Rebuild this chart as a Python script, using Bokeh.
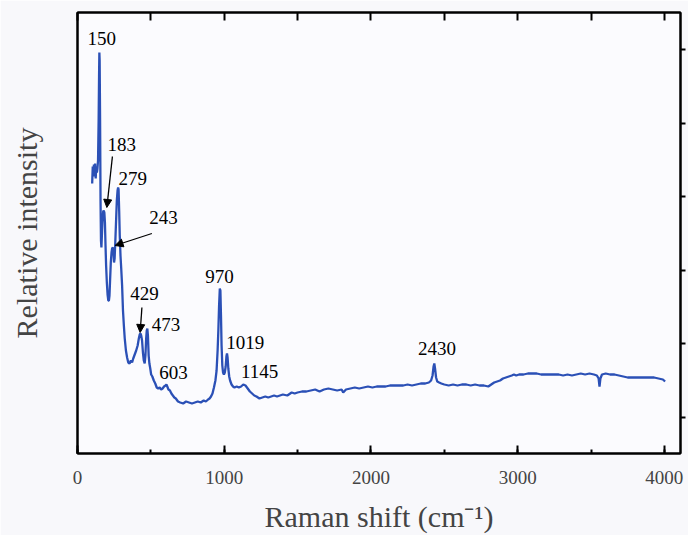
from bokeh.plotting import figure
from bokeh.models import (Range1d, LinearAxis, SingleIntervalTicker, FixedTicker,
                          Arrow, NormalHead, ColumnDataSource, CustomJSTickFormatter)
from bokeh.core.properties import value
from bokeh.embed import file_html
from bokeh.resources import INLINE

# Raman shift (cm-1)
shift = [100, 104, 108, 112, 116, 120, 124, 128, 132, 136, 140, 144, 147, 149, 151, 154, 157, 160,
         163, 167, 171, 175, 179, 183, 187, 191, 195, 200, 205, 210, 214, 218, 222, 227, 232, 236,
         241, 245, 249, 253, 258, 263, 268, 273, 277, 280, 284, 288, 293, 298, 304, 310, 316, 322,
         330, 338, 346, 355, 364, 372, 380, 390, 400, 410, 418, 424, 429, 434, 440, 446, 452, 458,
         463, 468, 472, 476, 480, 485, 490, 496, 502, 510, 520, 530, 540, 550, 560, 570, 580, 590,
         600, 606, 612, 620, 630, 640, 650, 660, 670, 685, 700, 720, 740, 760, 780, 800, 820, 840,
         860, 875, 890, 900, 910, 920, 930, 940, 948, 955, 960, 965, 970, 974, 978, 982, 987, 992,
         998, 1004, 1010, 1015, 1019, 1023, 1028, 1034, 1040, 1050, 1060, 1070, 1085, 1100, 1115,
         1130, 1145, 1160, 1175, 1190, 1205, 1220, 1240, 1260, 1280, 1300, 1320, 1340, 1360, 1380,
         1400, 1430, 1460, 1480, 1500, 1530, 1560, 1590, 1620, 1650, 1680, 1710, 1740, 1770, 1800,
         1811, 1830, 1860, 1890, 1920, 1950, 1980, 2010, 2040, 2070, 2100, 2130, 2160, 2190, 2220,
         2250, 2280, 2310, 2340, 2370, 2395, 2410, 2420, 2427, 2432, 2437, 2444, 2452, 2465, 2480,
         2500, 2530, 2560, 2590, 2620, 2650, 2680, 2710, 2740, 2770, 2800, 2820, 2840, 2860, 2880,
         2900, 2920, 2940, 2960, 2975, 2990, 3010, 3040, 3070, 3100, 3130, 3160, 3190, 3220, 3250,
         3280, 3310, 3340, 3370, 3400, 3430, 3460, 3490, 3520, 3540, 3552, 3558, 3564, 3575, 3600,
         3630, 3660, 3690, 3720, 3750, 3780, 3810, 3840, 3870, 3900, 3930, 3960, 3990, 4005]

# Relative intensity (arbitrary units)
intensity = [270, 287, 277, 289, 283, 290, 275, 287, 281, 285, 293, 333, 378, 401, 393, 333, 253, 213,
             206, 221, 235, 242, 243, 241, 231, 208, 188, 171, 159, 153, 153, 158, 173, 191, 201, 205,
             206, 203, 191, 195, 213, 233, 253, 263, 266, 264, 243, 218, 198, 185, 168, 143, 128, 115,
             103, 96, 91, 90, 93, 91, 95, 99, 103, 108, 115, 119, 120, 118, 113, 101, 93, 90,
             98, 115, 123, 125, 118, 98, 90, 85, 79, 77, 73, 70, 66, 65, 66, 64, 65, 67,
             68, 69, 67, 64, 63, 60, 58, 56, 55, 52, 51, 50, 52, 51, 50, 51, 52, 51,
             53, 52, 54, 55, 57, 60, 66, 73, 83, 103, 123, 148, 165, 163, 138, 108, 88, 81,
             79, 81, 87, 97, 100, 96, 85, 77, 73, 69, 67, 66, 67, 66, 67,
             69, 68, 65, 62, 60, 58, 57, 55, 56, 57, 56, 57, 58, 57, 58,
             59, 58, 61, 60, 61, 62, 62, 63, 64, 62, 64, 65, 64, 63, 64,
             61, 64, 65, 66, 65, 66, 67, 66, 67, 67, 67, 68, 68, 68, 68,
             69, 68, 69, 70, 70, 71, 73, 78, 87, 90, 85, 76, 72, 71, 70,
             69, 68, 69, 68, 69, 69, 68, 69, 68, 68, 67, 69, 71, 72, 73,
             75, 76, 77, 78, 79, 78, 79, 79, 80, 80, 80, 79, 79, 79, 79,
             79, 78, 79, 78, 79, 80, 79, 80, 79, 78, 75, 67, 75, 79, 80,
             79, 79, 78, 77, 76, 76, 76, 76, 76, 76, 76, 75, 74, 72]

# Peak annotations: label, label x, label y
peak_labels = ["150", "183", "279", "243", "429", "473", "603", "970", "1019", "1145", "2430"]
label_x = [166, 302, 377, 586, 456, 604, 654, 968, 1143, 1241, 2451]
label_y = [415, 309, 275, 236, 160, 129, 81, 177, 111, 82, 105]

# Arrows: start (x, y) -> end (x, y)
arrow_x0 = [238, 507, 439]
arrow_y0 = [297, 220, 146]
arrow_x1 = [200, 256, 427]
arrow_y1 = [246, 208, 121]

# tick positions on the right edge
right_ticks = [36, 110, 183, 257, 330, 404]

FONT = "Liberation Serif"
BG = "#fbfbfe"
XMAX = 4110
YMAX = 441

p = figure(width=688, height=535, output_backend="svg", toolbar_location=None,
           x_range=Range1d(0, XMAX), y_range=Range1d(0, YMAX),
           x_axis_location=None, y_axis_location=None,
           min_border_left=77, min_border_right=8, min_border_top=12, min_border_bottom=82,
           background_fill_color=BG, border_fill_color="#f8f8fb")
p.grid.visible = False
p.outline_line_color = "black"
p.outline_line_width = 2

empty = CustomJSTickFormatter(code="return ''")

# bottom axis
xb = LinearAxis(ticker=SingleIntervalTicker(interval=1000, num_minor_ticks=2),
                axis_label="Raman shift (cm\u207b\u00b9)")
xb.axis_line_width = 2
xb.major_tick_in = 8
xb.major_tick_out = 0
xb.major_tick_line_width = 2
xb.minor_tick_in = 4
xb.minor_tick_out = 0
xb.minor_tick_line_width = 2
xb.major_label_text_font = FONT
xb.major_label_text_font_size = "19px"
xb.major_label_standoff = 17
xb.axis_label_text_font = FONT
xb.axis_label_text_font_size = "30px"
xb.axis_label_text_font_style = "normal"
xb.axis_label_standoff = 13
p.add_layout(xb, "below")

# top axis (inward ticks only)
xt = LinearAxis(ticker=SingleIntervalTicker(interval=500, num_minor_ticks=0), formatter=empty)
xt.axis_line_width = 2
xt.major_tick_in = 8
xt.major_tick_out = 0
xt.major_tick_line_width = 2
xt.minor_tick_in = 0
xt.minor_tick_out = 0
xt.major_label_text_font_size = "8px"
xt.major_label_standoff = 0
p.add_layout(xt, "above")

# left axis (title only)
yl = LinearAxis(ticker=FixedTicker(ticks=[]), axis_label="Relative intensity")
yl.axis_line_width = 2
yl.major_tick_in = 0
yl.major_tick_out = 0
yl.minor_tick_in = 0
yl.minor_tick_out = 0
yl.formatter = empty
yl.major_label_standoff = 0
yl.axis_label_text_font = FONT
yl.axis_label_text_font_size = "30px"
yl.axis_label_text_font_style = "normal"
yl.axis_label_standoff = 35
p.add_layout(yl, "left")

# right axis (outward ticks only)
yr = LinearAxis(ticker=FixedTicker(ticks=right_ticks), formatter=empty)
yr.axis_line_width = 2
yr.major_tick_in = 0
yr.major_tick_out = 5
yr.major_tick_line_width = 2
yr.minor_tick_in = 0
yr.minor_tick_out = 0
yr.major_label_standoff = 0
p.add_layout(yr, "right")

p.line(shift, intensity, line_color="#2b50b6", line_width=2.3)

src = ColumnDataSource(dict(x=label_x, y=label_y, t=peak_labels))
p.text(x="x", y="y", text="t", source=src, text_font=value(FONT), text_font_size="19px",
       text_align="center", text_baseline="middle", text_color="black")

for x0, y0, x1, y1 in zip(arrow_x0, arrow_y0, arrow_x1, arrow_y1):
    p.add_layout(Arrow(x_start=x0, y_start=y0, x_end=x1, y_end=y1, line_width=1.3,
                       line_color="black",
                       end=NormalHead(size=8, fill_color="black", line_color="black")))

open("out.html", "w").write(file_html(p, INLINE))
